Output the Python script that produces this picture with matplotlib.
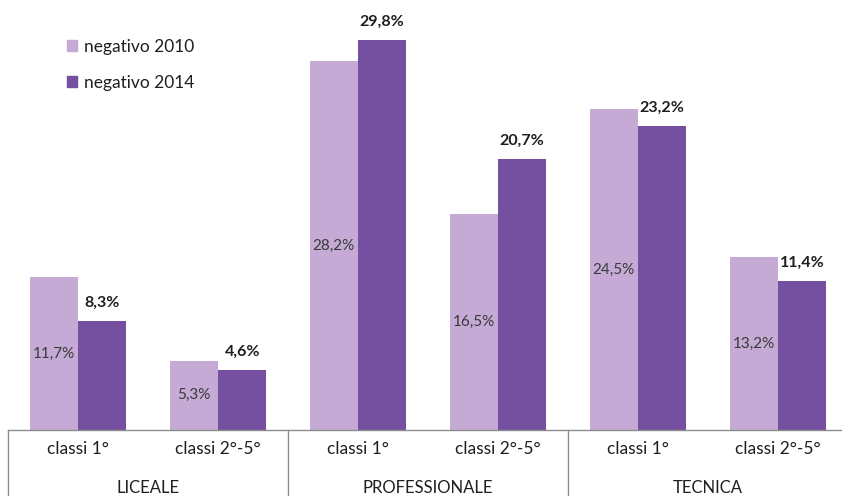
import matplotlib
matplotlib.use("Agg")
import matplotlib.pyplot as plt
from matplotlib.patches import Patch
from matplotlib.transforms import blended_transform_factory

plt.rcParams['font.family'] = ['Lato', 'DejaVu Sans']

classes = ["classi 1°", "classi 2°-5°", "classi 1°", "classi 2°-5°", "classi 1°", "classi 2°-5°"]
groups = ["LICEALE", "PROFESSIONALE", "TECNICA"]
neg_2010 = [11.7, 5.3, 28.2, 16.5, 24.5, 13.2]
neg_2014 = [8.3, 4.6, 29.8, 20.7, 23.2, 11.4]
series_labels = ["negativo 2010", "negativo 2014"]

c_light = "#C4AAD4"
c_dark = "#7550A0"
txt = "#1f1f1f"

W, H = 842, 496
fig = plt.figure(figsize=(W / 100, H / 100), dpi=100)
base_px = 66
ax = fig.add_axes([8 / W, base_px / H, 1 - 8 / W, 1 - base_px / H])

x = list(range(len(classes)))
bw = 0.345
ax.bar([i - bw / 2 for i in x], neg_2010, width=bw, color=c_light, label=series_labels[0])
ax.bar([i + bw / 2 for i in x], neg_2014, width=bw, color=c_dark, label=series_labels[1])

for i, v in enumerate(neg_2010):
    ax.text(i - bw / 2, v / 2, f"{v:.1f}%".replace(".", ","), ha="center", va="center",
            fontsize=11, color="#3a3a3a")
for i, v in enumerate(neg_2014):
    ax.annotate(f"{v:.1f}%".replace(".", ","), (i + bw / 2, v), xytext=(0, 8),
                textcoords="offset points", ha="center", va="bottom",
                fontsize=11.5, fontweight="bold", color=txt)

ax.set_xlim(-0.5, 5.457)
ax.set_ylim(0, 32.85)
for s in ["top", "right", "left"]:
    ax.spines[s].set_visible(False)
ax.spines["bottom"].set_color("#8c8c8c")
ax.spines["bottom"].set_linewidth(1.0)
ax.set_yticks([])
ax.set_xticks(x)
ax.set_xticklabels(classes, fontsize=12.5, color=txt)
ax.tick_params(axis="x", length=0, pad=8)

trans = blended_transform_factory(ax.transData, ax.transAxes)
ax_h = H - base_px
for d in [-0.5, 1.5, 3.5, 5.5]:
    ax.plot([d, d], [0, -base_px / ax_h], transform=trans, color="#8c8c8c",
            lw=1.0, clip_on=False)
for g, name in enumerate(groups):
    ax.text(2 * g + 0.5, -58 / ax_h, name, transform=trans, ha="center", va="center",
            fontsize=12, color=txt)

handles = [Patch(color=c_light), Patch(color=c_dark)]
ax.legend(handles, series_labels, loc="upper left", bbox_to_anchor=(43 / (W - 8), 1 - 23 / ax_h),
          frameon=False, fontsize=12.5, handlelength=0.6, handleheight=0.6,
          handletextpad=0.4, labelspacing=1.15, labelcolor=txt)

fig.savefig("out.png", dpi=100)
